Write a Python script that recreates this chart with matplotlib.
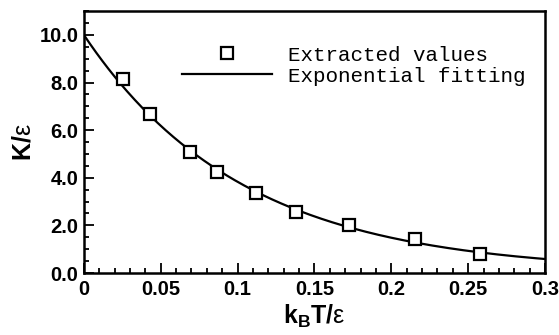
import matplotlib.pyplot as plt
import numpy as np
from matplotlib.ticker import MultipleLocator

# extracted values
kT = [0.0254, 0.043, 0.069, 0.0865, 0.112, 0.138, 0.1725, 0.2155, 0.258]
K = [8.14, 6.68, 5.08, 4.25, 3.35, 2.56, 2.0, 1.43, 0.80]
K0 = 10.0  # value of the fitted curve at kT = 0

xticks = [0, 0.05, 0.1, 0.15, 0.2, 0.25, 0.3]
xticklabels = ["0", "0.05", "0.1", "0.15", "0.2", "0.25", "0.3"]
yticks = [0, 2, 4, 6, 8, 10]
yticklabels = ["0.0", "2.0", "4.0", "6.0", "8.0", "10.0"]

x = np.array(kT)
y = np.array(K)

# exponential fitting K = (K0-c)*exp(-x/t) + c, grid search over c and t
best = None
for c in np.linspace(-1, 0.7, 171):
    for t in np.linspace(0.05, 0.2, 301):
        err = np.sum(((K0 - c) * np.exp(-x / t) + c - y) ** 2)
        if best is None or err < best[0]:
            best = (err, c, t)
_, c, t = best
xf = np.linspace(0, 0.3, 300)
yf = (K0 - c) * np.exp(-xf / t) + c

plt.rcParams["font.family"] = "Liberation Sans"
plt.rcParams["mathtext.fontset"] = "custom"
plt.rcParams["mathtext.rm"] = "Liberation Sans"
plt.rcParams["mathtext.bf"] = "Liberation Sans:bold"
plt.rcParams["mathtext.it"] = "Liberation Sans:italic"

fig = plt.figure(figsize=(5.59, 3.35), dpi=100)
ax = fig.add_axes([0.150, 0.185, 0.825, 0.782])

ax.plot(xf, yf, "k-", lw=1.6, label="Exponential fitting")
ax.plot(x, y, "s", ms=8, mfc="white", mec="black", mew=1.6, ls="none",
        label="Extracted values")

ax.set_xlim(0, 0.3)
ax.set_ylim(0, 11)
ax.set_xticks(xticks)
ax.set_xticklabels(xticklabels)
ax.set_yticks(yticks)
ax.set_yticklabels(yticklabels)
ax.xaxis.set_minor_locator(MultipleLocator(0.01))
ax.yaxis.set_minor_locator(MultipleLocator(0.5))
ax.tick_params(which="both", direction="in", top=False, right=False, width=1.3)
ax.tick_params(which="major", length=7, labelsize=14.5)
ax.tick_params(axis="x", which="major", pad=5)
ax.tick_params(axis="y", which="major", pad=4)
ax.tick_params(which="minor", length=3.5)
for lab in ax.get_xticklabels() + ax.get_yticklabels():
    lab.set_fontweight("bold")
for sp in ax.spines.values():
    sp.set_linewidth(1.8)

ax.set_xlabel(r"$\mathbf{k_B T/}\mathrm{ε}$", fontsize=18, labelpad=3)
ax.set_ylabel(r"$\mathbf{K/}\mathrm{ε}$", fontsize=18, labelpad=3)

h, l = ax.get_legend_handles_labels()
ax.legend(h[::-1], l[::-1], loc="upper left", bbox_to_anchor=(0.213, 0.868),
          frameon=False, borderpad=0, borderaxespad=0, handlelength=4.3,
          handletextpad=0.8, labelspacing=0.1,
          prop={"family": "Liberation Mono", "size": 15})

fig.savefig("out.png", dpi=100)
